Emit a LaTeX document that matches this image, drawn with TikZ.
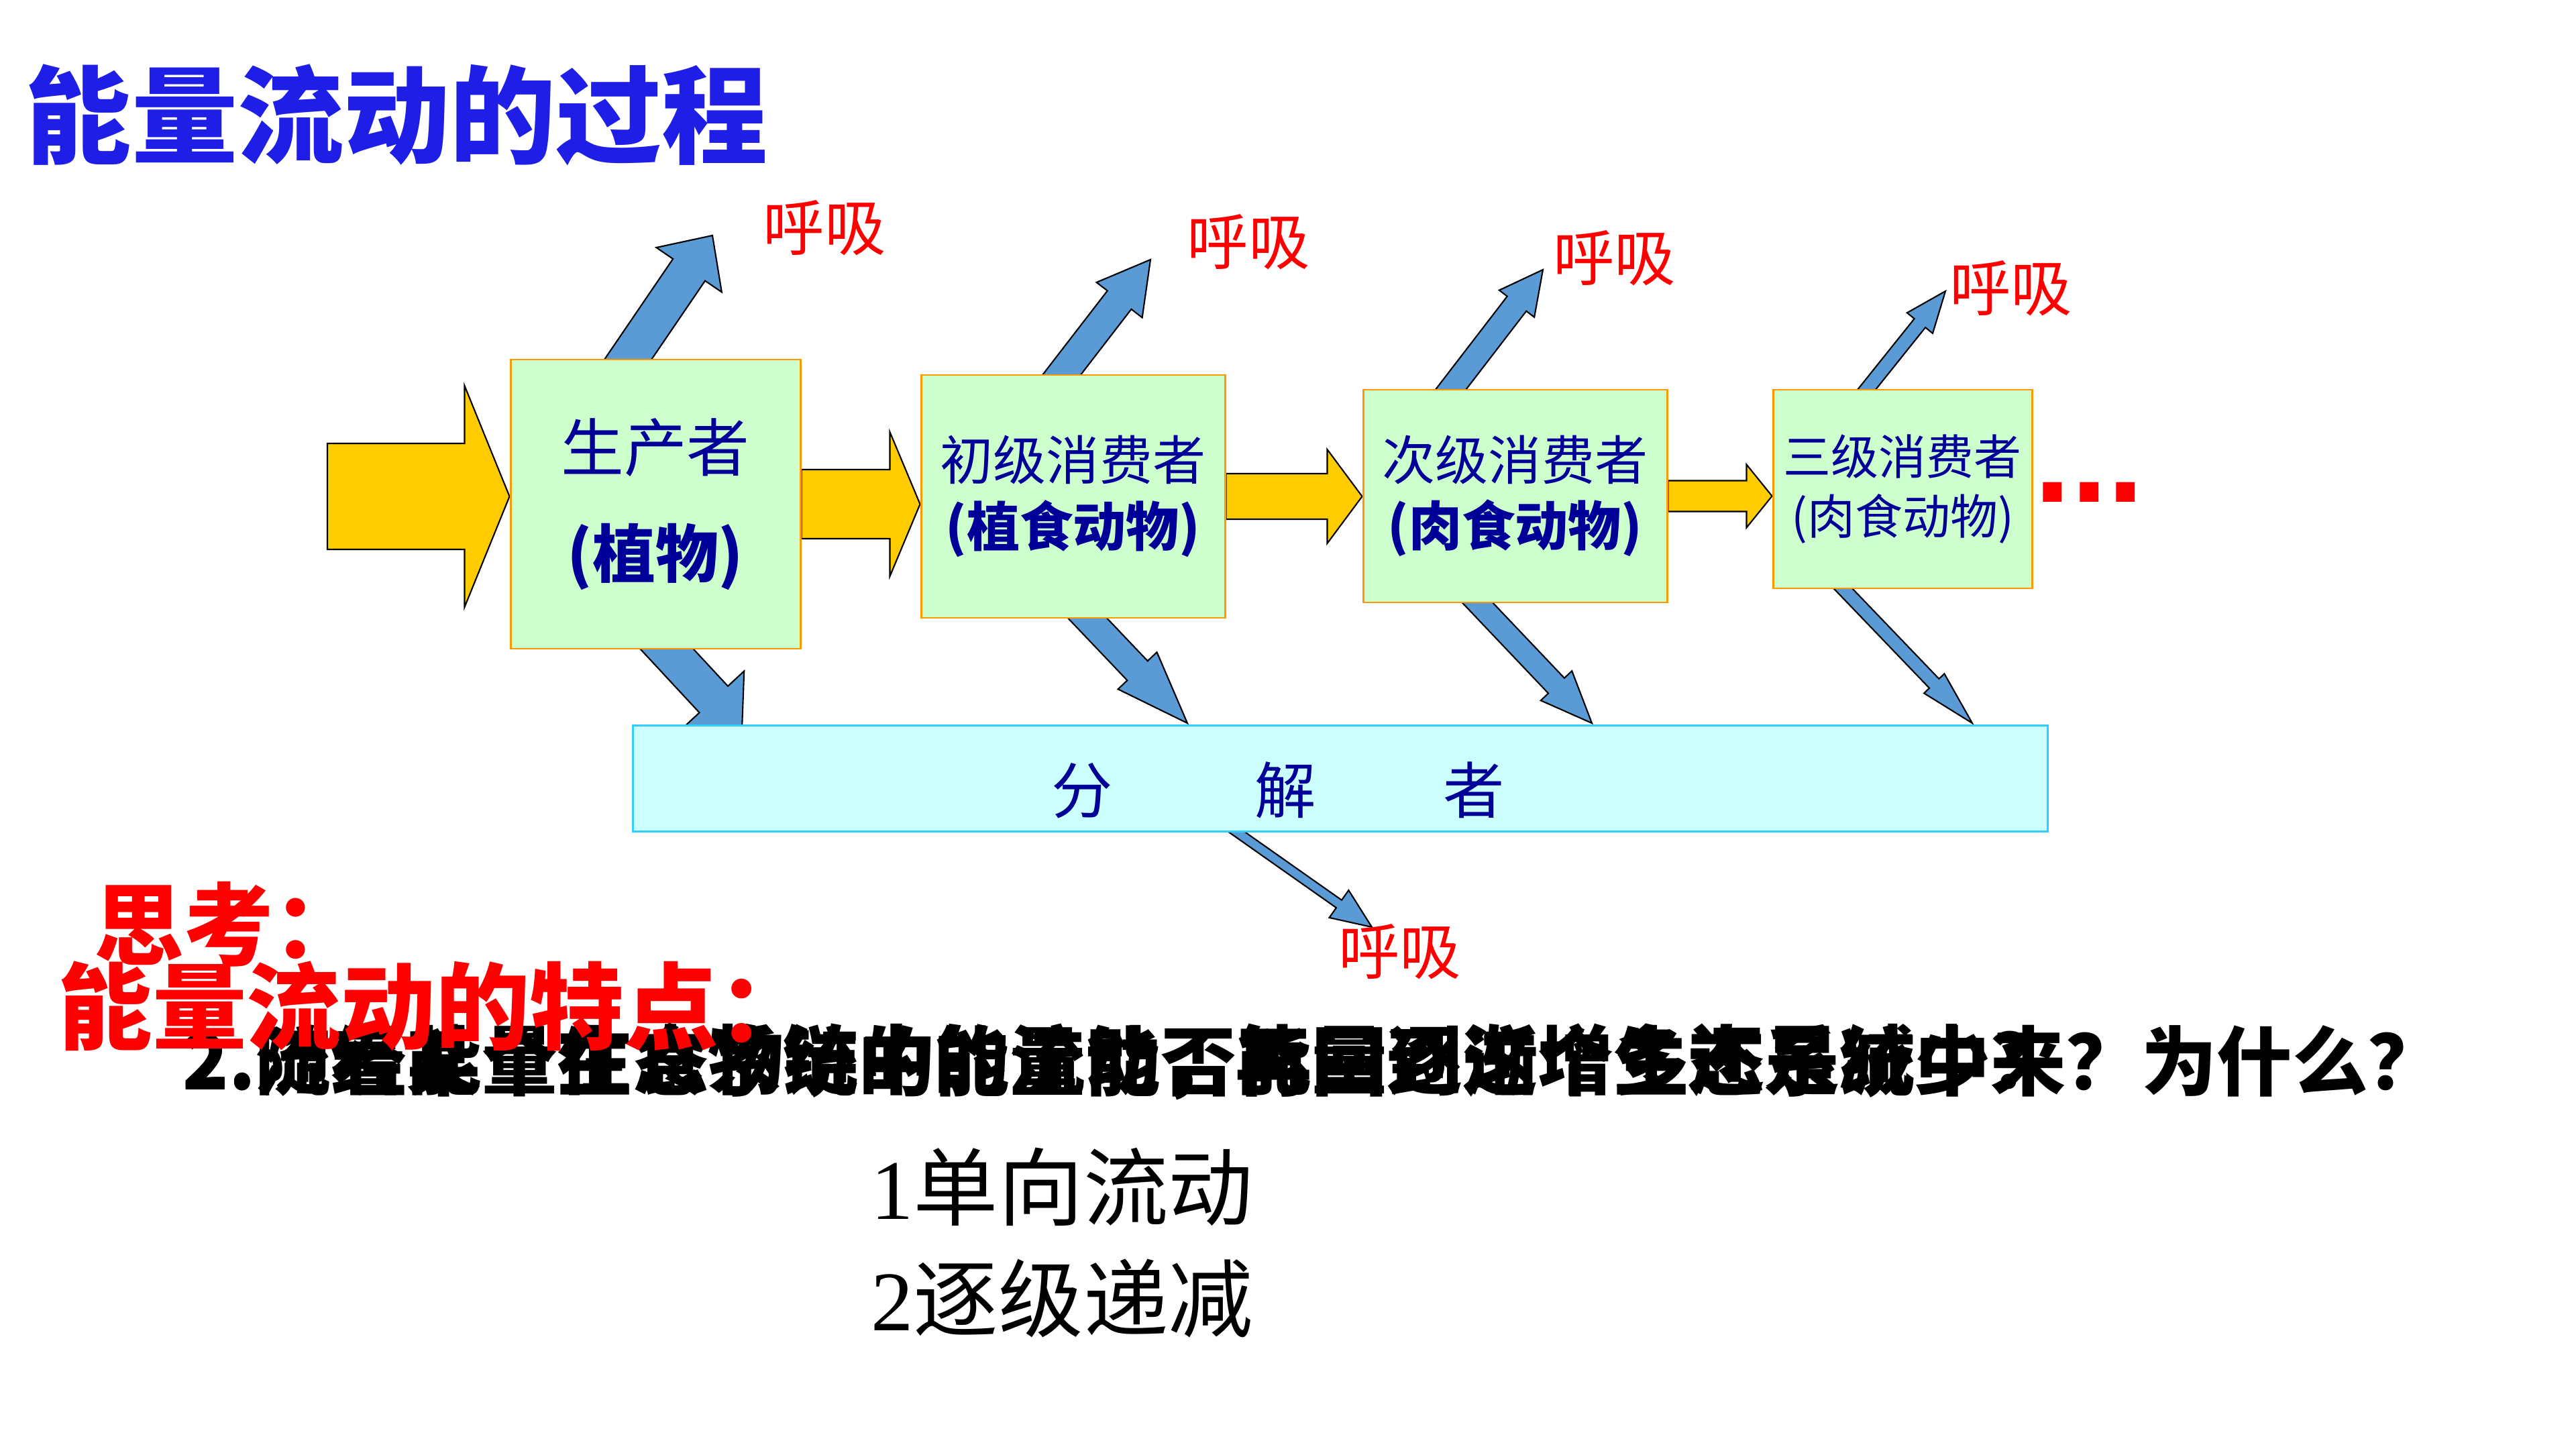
\documentclass[tikz,border=0pt]{standalone}
\usepackage{fontspec}
\setmainfont{Noto Sans CJK SC}
\newfontfamily\latinserif{Liberation Serif}
\newfontfamily\latinsans{Liberation Sans}
\usetikzlibrary{positioning, calc, backgrounds}

\definecolor{titleblue}{RGB}{30,30,230}
\definecolor{boxtext}{RGB}{0,0,153}
\definecolor{boxfill}{RGB}{204,255,204}
\definecolor{boxline}{RGB}{255,153,0}
\definecolor{decofill}{RGB}{204,255,255}
\definecolor{decoline}{RGB}{51,204,255}
\definecolor{flowyellow}{RGB}{255,204,0}
\definecolor{lossblue}{RGB}{91,155,213}

\tikzset{
    level/.style={draw=boxline, line width=0.85pt, fill=boxfill, text=boxtext, align=center, inner sep=0pt},
    breath/.style={text=red, inner sep=0pt, font=\fontsize{26pt}{30pt}\selectfont},
    flow/.style={draw=black, line width=0.6pt, fill=flowyellow},
    loss/.style={draw=black, line width=0.6pt, fill=lossblue},
    question/.style={anchor=west, inner sep=0pt, font=\bfseries\fontsize{32pt}{36pt}\selectfont},
    answer/.style={anchor=west, inner sep=0pt, font=\fontsize{36pt}{40pt}\selectfont},
    thinking/.style={anchor=west, inner sep=0pt, text=red, font=\bfseries\fontsize{40pt}{44pt}\selectfont}
}

% style, start, tip, half shaft, half head, head length, back
\newcommand{\fatarrow}[7]{%
    \coordinate (fa-a) at ($#2!-#7!#3$);
    \coordinate (fa-b) at #3;
    \coordinate (fa-h) at ($(fa-b)!#6!(fa-a)$);
    \draw[#1] ($(fa-a)!#4!90:(fa-b)$) -- ($(fa-h)!#4!90:(fa-b)$)
        -- ($(fa-h)!#5!90:(fa-b)$) -- (fa-b)
        -- ($(fa-h)!#5!-90:(fa-b)$) -- ($(fa-h)!#4!-90:(fa-b)$)
        -- ($(fa-a)!#4!-90:(fa-b)$) -- cycle;
}

\begin{document}
\begin{tikzpicture}
    \useasboundingbox (0,0) rectangle (38.4,-21.6);

    \node (title) [text=titleblue, font=\bfseries\fontsize{45pt}{50pt}\selectfont] at (5.915,-1.71) {能量流动的过程};

    \node (prod) [level, minimum width=4.32cm, minimum height=4.31cm, font=\fontsize{26.7pt}{45pt}\selectfont] at (9.77,-7.515) {生产者\\\textbf{(植物)}};
    \node (prim) [level, minimum width=4.53cm, minimum height=3.62cm, font=\fontsize{22.5pt}{28pt}\selectfont] at (15.995,-7.40) {初级消费者\\\textbf{(植食动物)}};
    \node (sec) [level, minimum width=4.53cm, minimum height=3.17cm, font=\fontsize{22.5pt}{28pt}\selectfont] at (22.585,-7.395) {次级消费者\\\textbf{(肉食动物)}};
    \node (tert) [level, minimum width=3.86cm, minimum height=2.96cm, font=\fontsize{20.2pt}{25.3pt}\selectfont] at (28.36,-7.29) {三级消费者\\(肉食动物)};
    \node (more) [text=red, inner sep=0pt, font=\latinsans\bfseries\fontsize{56pt}{60pt}\selectfont] at (31.145,-7.34) {...};

    \node (decomp) [draw=decoline, line width=0.85pt, fill=decofill, text=boxtext, minimum width=21.09cm, minimum height=1.58cm, inner sep=0pt, text width=21.09cm, text height=1.04cm, text depth=0cm, align=left, font=\fontsize{26pt}{30pt}\selectfont] at (19.975,-11.60) {\hspace*{6.24cm}分\hspace{2.12cm}解\hspace{1.9cm}者};

    \node (prodbreath) [breath] at (12.29,-3.40) {呼吸};
    \node (primbreath) [breath] at (18.61,-3.61) {呼吸};
    \node (secbreath) [breath] at (24.065,-3.85) {呼吸};
    \node (tertbreath) [breath] at (29.975,-4.30) {呼吸};
    \node (decompbreath) [breath] at (20.865,-14.19) {呼吸};

    \coordinate (sun) at (4.88,-7.40);
    \coordinate (prodin) at (sun -| prod.west);
    \coordinate (primin) at (prod.east -| prim.west);
    \coordinate (secin) at (prim.east -| sec.west);
    \coordinate (tertin) at (sec.east -| tert.west);

    \coordinate (prodtop) at ($(prod.north)+(-0.40,0)$);
    \coordinate (prodbot) at ($(prod.south)+(0.18,0)$);
    \coordinate (primtop) at ($(prim.north)+(-0.16,0)$);
    \coordinate (primbot) at ($(prim.south)+(0.225,0)$);
    \coordinate (sectop) at ($(sec.north)+(-0.95,0)$);
    \coordinate (secbot) at ($(sec.south)+(-0.55,0)$);
    \coordinate (terttop) at ($(tert.north)+(-0.525,0)$);
    \coordinate (tertbot) at ($(tert.south)+(-0.875,0)$);
    \coordinate (decompbot) at ($(decomp.south)+(-1.535,0)$);

    \coordinate (produp) at (10.62,-3.51);
    \coordinate (proddown) at (11.06,-10.88);
    \coordinate (primup) at (17.15,-3.87);
    \coordinate (primdown) at (17.70,-10.78);
    \coordinate (secup) at (23.00,-4.02);
    \coordinate (secdown) at (23.73,-10.78);
    \coordinate (tertup) at (29.00,-4.34);
    \coordinate (tertdown) at (29.40,-10.78);
    \coordinate (decompdown) at (20.45,-13.82);

    \begin{scope}[on background layer]
        \fill[white] (0,0) rectangle (38.4,-21.6);
        \fatarrow{flow}{(sun)}{(prodin)}{0.79cm}{1.65cm}{0.67cm}{0cm}
        \fatarrow{flow}{(prod.east)}{(primin)}{0.515cm}{1.075cm}{0.45cm}{0cm}
        \fatarrow{flow}{(prim.east)}{(secin)}{0.34cm}{0.70cm}{0.52cm}{0cm}
        \fatarrow{flow}{(sec.east)}{(tertin)}{0.23cm}{0.47cm}{0.38cm}{0cm}

        \fatarrow{loss}{(prodtop)}{(produp)}{0.29cm}{0.59cm}{0.62cm}{0.4cm}
        \fatarrow{loss}{(prodbot)}{(proddown)}{0.29cm}{0.62cm}{0.62cm}{0.4cm}
        \fatarrow{loss}{(primtop)}{(primup)}{0.225cm}{0.43cm}{0.76cm}{0.4cm}
        \fatarrow{loss}{(primbot)}{(primdown)}{0.21cm}{0.40cm}{1.08cm}{0.4cm}
        \fatarrow{loss}{(sectop)}{(secup)}{0.18cm}{0.33cm}{0.64cm}{0.4cm}
        \fatarrow{loss}{(secbot)}{(secdown)}{0.165cm}{0.32cm}{0.77cm}{0.4cm}
        \fatarrow{loss}{(terttop)}{(tertup)}{0.105cm}{0.245cm}{0.61cm}{0.4cm}
        \fatarrow{loss}{(tertbot)}{(tertdown)}{0.10cm}{0.21cm}{0.82cm}{0.4cm}
        \fatarrow{loss}{(decompbot)}{(decompdown)}{0.07cm}{0.25cm}{0.60cm}{0.4cm}
    \end{scope}

    \node (q1) [question] at (2.72,-15.82) {2.流经某个生态系统的能量能否再回到这个生态系统中来？为什么？};
    \node (q2) [question] at (2.72,-15.82) {2.随着能量在食物链中的流动，能量逐渐增多还是减少？};

    \node (a1) [answer] at (12.98,-17.69) {{\latinserif 1}单向流动};
    \node (a2) [answer] at (12.98,-19.35) {{\latinserif 2}逐级递减};

    \node (think) [thinking, font=\bfseries\fontsize{38pt}{42pt}\selectfont] at (1.40,-13.78) {思考：};
    \node (feature) [thinking] at (0.86,-15.00) {能量流动的特点：};
\end{tikzpicture}
\end{document}
